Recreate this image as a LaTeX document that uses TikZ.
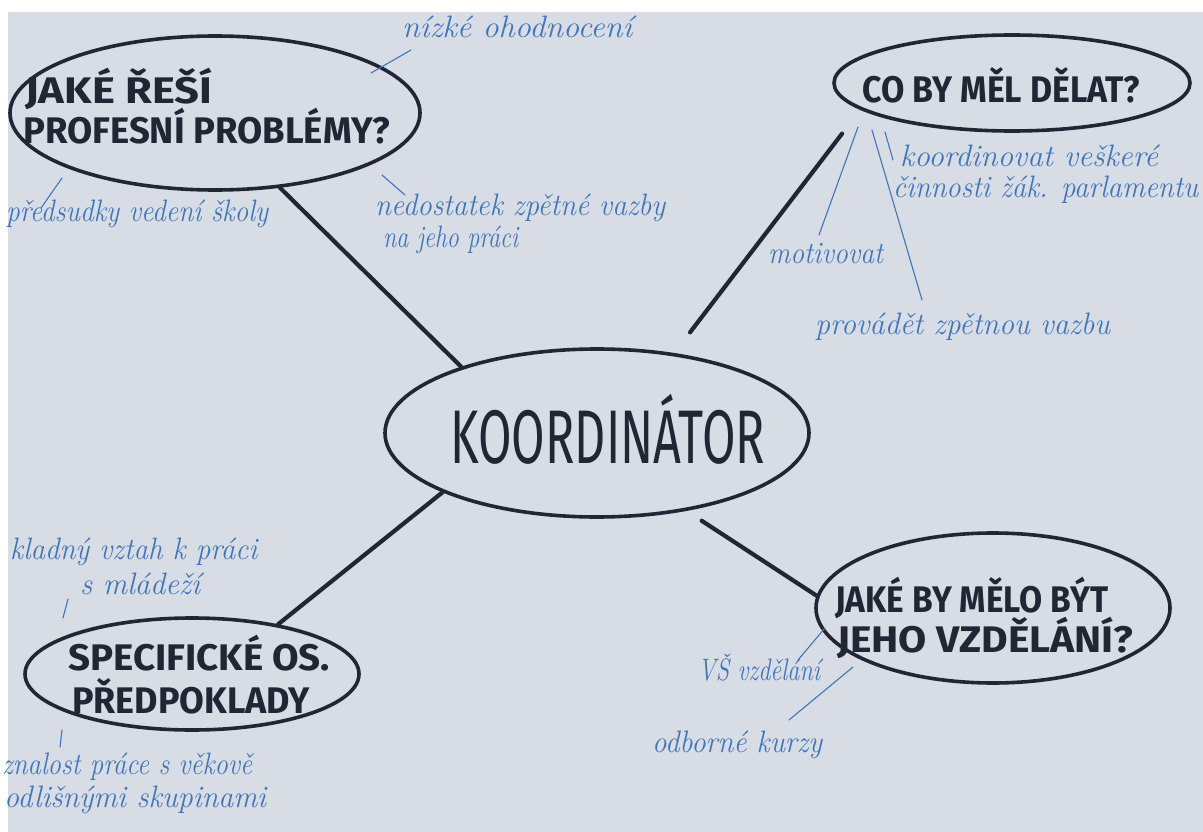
\documentclass[tikz,border=0pt]{standalone}
\usepackage{fontspec}
\usepackage{graphicx}
\setsansfont{Fira Sans}
\usetikzlibrary{shapes.geometric}
\definecolor{paper}{RGB}{215,220,229}
\definecolor{ink}{RGB}{34,37,52}
\definecolor{pen}{RGB}{64,118,184}
\newcommand\fitx[2]{\resizebox{#1pt}{\height}{#2}}
\begin{document}
\begin{tikzpicture}[x=1pt,y=-1pt,
  bubble/.style={ellipse, draw=ink, line width=3.6pt, inner sep=0pt},
  caps/.style={text=ink, inner sep=0pt, anchor=base west, font=\fontsize{37}{40}\selectfont\sffamily\bfseries},
  conn/.style={draw=ink, line width=4.2pt, line cap=round},
  note/.style={text=pen, inner sep=0pt, anchor=base west, font=\fontsize{31}{34}\selectfont\itshape},
  twig/.style={draw=pen, line width=1.1pt, line cap=round}]
\fill[white] (0,0) rectangle (1203,832);
\fill[paper] (8,12) rectangle (1203,832);
\useasboundingbox (0,0) rectangle (1203,832);

% bubbles
\node[bubble, minimum width=410pt, minimum height=154pt] (e1) at (215,113) {};
\node[bubble, minimum width=356pt, minimum height=96pt] (e2) at (1012,83) {};
\node[bubble, minimum width=424pt, minimum height=168pt] (c) at (597,433) {};
\node[bubble, minimum width=334pt, minimum height=112pt] (e3) at (192,674) {};
\node[bubble, minimum width=354pt, minimum height=150pt] (e4) at (993,608) {};

% bubble texts
\node[caps] (t1a) at (25,104) {\fitx{187}{JAKÉ ŘEŠÍ}};
\node[caps] (t1b) at (23,144) {\fitx{367}{PROFESNÍ PROBLÉMY?}};
\node[caps] (t2) at (862,103) {\fitx{278}{CO BY MĚL DĚLAT?}};
\node[caps, font=\fontsize{76}{80}\selectfont\sffamily] (tc) at (450,463) {\fitx{315}{KOORDINÁTOR}};
\node[caps] (t3a) at (68,670) {\fitx{262}{SPECIFICKÉ OS.}};
\node[caps] (t3b) at (72,713) {\fitx{238}{PŘEDPOKLADY}};
\node[caps] (t4a) at (835,612) {\fitx{273}{JAKÉ BY MĚLO BÝT}};
\node[caps] (t4b) at (837,652) {\fitx{296}{JEHO VZDĚLÁNÍ?}};

% main connectors
\draw[conn] (e1.-49) -- (c.154);
\draw[conn, shorten <=30pt, shorten >=26pt] (e2.-170) -- (c.46);
\draw[conn] (c.-159) -- (e3.30);
\draw[conn, shorten <=18pt] (c.-41) -- (e4.176);

% notes
\node[note] (n1) at (402,38) {\fitx{230}{nízké ohodnocení}};
\node[note] (n2) at (6,222) {\fitx{262}{předsudky vedení školy}};
\node[note] (n3a) at (375,215) {\fitx{290}{nedostatek zpětné vazby}};
\node[note] (n3b) at (383,247) {\fitx{135}{na jeho práci}};
\node[note] (n4a) at (900,167) {\fitx{258}{koordinovat veškeré}};
\node[note] (n4b) at (893,197) {\fitx{305}{činnosti žák. parlamentu}};
\node[note] (n5) at (768,263) {\fitx{115}{motivovat}};
\node[note] (n6) at (815,334) {\fitx{295}{provádět zpětnou vazbu}};
\node[note] (n7a) at (10,559) {\fitx{247}{kladný vztah k práci}};
\node[note] (n7b) at (80,594) {\fitx{120}{s mládeží}};
\node[note] (n8a) at (2,774) {\fitx{250}{znalost práce s věkově}};
\node[note] (n8b) at (4,807) {\fitx{262}{odlišnými skupinami}};
\node[note] (n9) at (698,680) {\fitx{122}{VŠ vzdělání}};
\node[note] (n10) at (652,752) {\fitx{170}{odborné kurzy}};

% twig end points
\coordinate (k1a) at (371,73);  \coordinate (k1b) at (411,50);
\coordinate (k2a) at (62,178);  \coordinate (k2b) at (41,208);
\coordinate (k3a) at (382,175); \coordinate (k3b) at (405,195);
\coordinate (k4a) at (885,132); \coordinate (k4b) at (893,160);
\coordinate (k5a) at (858,127); \coordinate (k5b) at (819,235);
\coordinate (k6a) at (872,130); \coordinate (k6b) at (922,300);
\coordinate (k7a) at (63,618);  \coordinate (k7b) at (68,599);
\coordinate (k8a) at (62,730);  \coordinate (k8b) at (60,747);
\coordinate (k9a) at (825,628); \coordinate (k9b) at (798,660);
\coordinate (k10a) at (853,667); \coordinate (k10b) at (789,720);

\draw[twig] (k1a) -- (k1b);
\draw[twig] (k2a) -- (k2b);
\draw[twig] (k3a) -- (k3b);
\draw[twig] (k4a) -- (k4b);
\draw[twig] (k5a) -- (k5b);
\draw[twig] (k6a) -- (k6b);
\draw[twig] (k7a) -- (k7b);
\draw[twig] (k8a) -- (k8b);
\draw[twig] (k9a) -- (k9b);
\draw[twig] (k10a) -- (k10b);
\end{tikzpicture}
\end{document}
